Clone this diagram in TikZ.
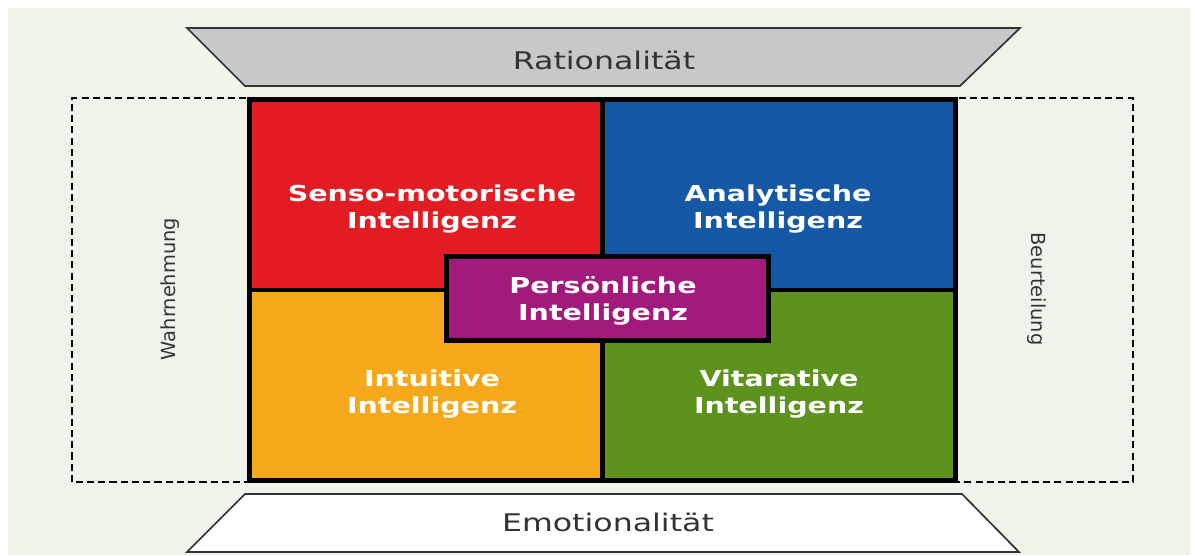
\documentclass[tikz,border=0pt]{standalone}
\usepackage{fontspec}
\setmainfont[FakeStretch=1.3]{DejaVu Sans}
\newfontfamily\sidefont{DejaVu Sans}
\usepackage{tikz}

\definecolor{bggreen}{HTML}{EFF4EA}
\definecolor{ratgray}{HTML}{C7C8CA}
\definecolor{sensored}{HTML}{E31C24}
\definecolor{anablue}{HTML}{1559A6}
\definecolor{intuorange}{HTML}{F6A81B}
\definecolor{vitagreen}{HTML}{5D921E}
\definecolor{perspurple}{HTML}{A3197C}
\definecolor{textgray}{HTML}{333333}

\begin{document}
\begin{tikzpicture}[x=0.25mm, y=0.25mm,
        trap/.style={draw=textgray, line width=1.2pt, line join=miter},
        axis/.style={text=textgray, font=\fontsize{17.3}{20}\selectfont, inner sep=0pt},
        side/.style={text=textgray, font=\sidefont\fontsize{13.8}{16}\selectfont, inner sep=0pt},
        intel/.style={text=white, align=center, inner sep=0pt, font=\fontsize{15.6}{19.2}\selectfont\bfseries}]
        \useasboundingbox (0, 0) rectangle (1195, 555);
        \fill[bggreen] (8, 0) rectangle (1190, 547);

        \draw[trap, fill=ratgray] (187, 527) -- (1020, 527) -- (960, 469) -- (245, 469) -- cycle;
        \draw[trap, fill=white] (245, 61) -- (962, 61) -- (1019, 3) -- (187, 3) -- cycle;
        \node[axis, anchor=base] (Rat) at (604, 485) {Rationalität};
        \node[axis, anchor=base] (Emo) at (608, 24) {Emotionalität};

        \draw[black, dashed, line width=0.8pt, dash pattern=on 5pt off 3pt] (72, 73) rectangle (1133, 457);
        \node[side, rotate=90] (Wahr) at (170, 266) {Wahrnehmung};
        \node[side, rotate=-90] (Beur) at (1037, 266) {Beurteilung};

        \fill[sensored] (249.5, 265) rectangle (602.5, 455.5);
        \fill[anablue] (602.5, 265) rectangle (955.5, 455.5);
        \fill[intuorange] (249.5, 74.5) rectangle (602.5, 265);
        \fill[vitagreen] (602.5, 74.5) rectangle (955.5, 265);
        \node[draw=black, line width=3.56pt, minimum width=176.5mm, minimum height=95.25mm] (Q) at (602.5, 265) {};
        \draw[black, line width=3.3pt] (Q.north) -- (Q.south);
        \draw[black, line width=3pt] (Q.west) -- (Q.east);

        \node[intel] (Senso) at (432, 346) {Senso-motorische\\Intelligenz};
        \node[intel] (Ana) at (778, 346) {Analytische\\Intelligenz};
        \node[intel] (Intu) at (432, 161) {Intuitive\\Intelligenz};
        \node[intel] (Vita) at (779, 161) {Vitarative\\Intelligenz};

        \node[draw=black, fill=perspurple, line width=3.56pt, minimum width=80.5mm, minimum height=21mm] (P) at (607.5, 256.5) {};
        \node[intel] (Pers) at (603, 254.5) {Persönliche\\Intelligenz};
    \end{tikzpicture}
\end{document}
